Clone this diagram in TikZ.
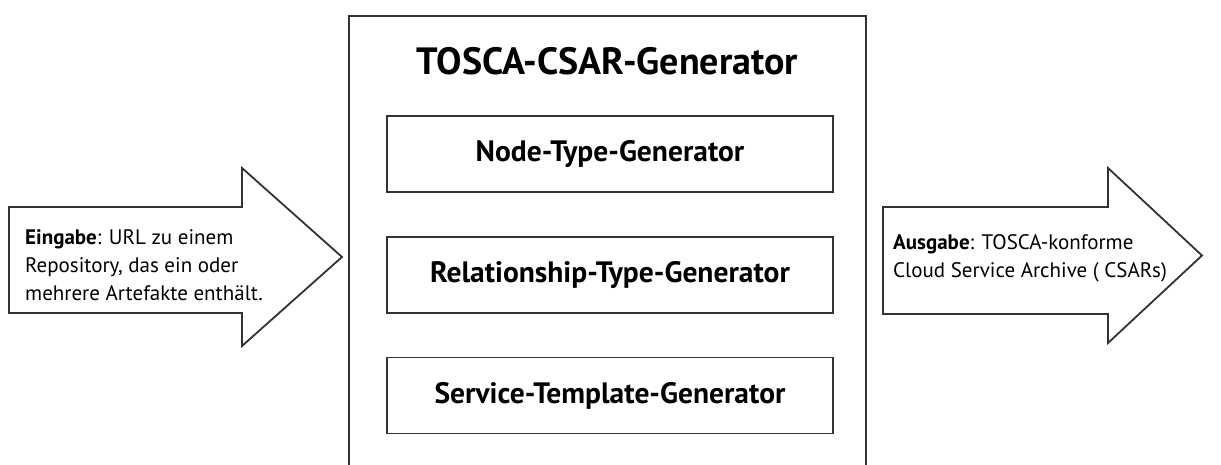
\documentclass[tikz,border=0pt]{standalone}
\usepackage{fontspec}
\setmainfont{PT Sans}
\begin{document}
\begin{tikzpicture}[x=1pt,y=-1pt,
  line/.style={draw=black!80,line width=1.8pt,line join=miter},
  genbox/.style={line,minimum width=446pt,minimum height=76pt,inner sep=0pt,
    font=\fontsize{29.5}{34}\selectfont\bfseries},
  arrowtext/.style={align=left,inner sep=0pt,font=\fontsize{21}{28}\selectfont}]
\useasboundingbox (0,0) rectangle (1221,465);
\fill[white] (0,0) rectangle (1221,465);
% main generator frame, running past the lower edge
\draw[line] (349,475) -- (349,16) -- (866,16) -- (866,475);
\node[font=\fontsize{38}{44}\selectfont\bfseries,anchor=base] (title) at (607.5,75) {TOSCA-CSAR-Generator};
% sub-generators
\node[genbox] (ntg) at (610,154) {Node-Type-Generator};
\node[genbox] (rtg) at (610,275) {Relationship-Type-Generator};
\node[genbox] (stg) at (610,395.5) {Service-Template-Generator};
% input arrow
\draw[line] (9,207) -- (242,207) -- (242,168) -- (342,257) -- (242,346) -- (242,313) -- (9,313) -- cycle;
\node[arrowtext,anchor=west] (in) at (25,265) {\textbf{Eingabe}: URL zu einem\\Repository, das ein oder\\mehrere Artefakte enthält.};
% output arrow
\draw[line] (883,207) -- (1108,207) -- (1108,168) -- (1202,255.5) -- (1108,343) -- (1108,314) -- (883,314) -- cycle;
\node[arrowtext,anchor=west] (out) at (893,258) {\textbf{Ausgabe}: TOSCA-konforme\\Cloud Service Archive ( CSARs)};
\end{tikzpicture}
\end{document}
